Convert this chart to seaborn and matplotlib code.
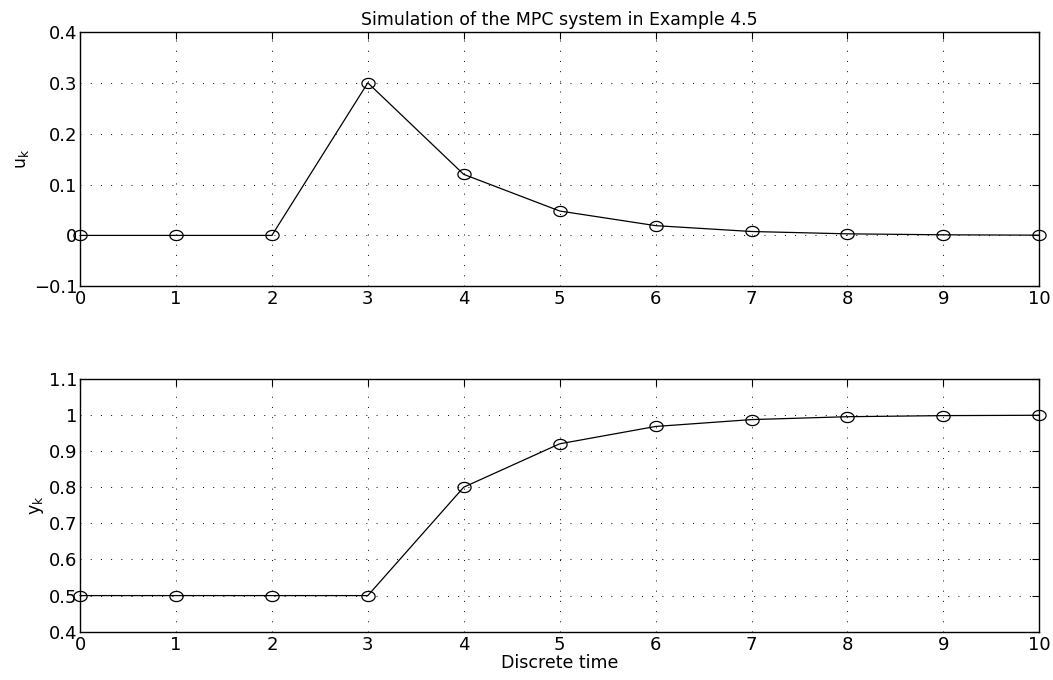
"""
MPC 시뮬레이션 (Example 4.5) — 입력 u_k, 출력 y_k
"""
import matplotlib
matplotlib.use("Agg")
import numpy as np
import pandas as pd
import matplotlib.pyplot as plt
from matplotlib.path import Path
import seaborn as sns

K = [0, 1, 2, 3, 4, 5, 6, 7, 8, 9, 10]
U = [0, 0, 0, 0.3, 0.12, 0.048, 0.0192, 0.0077, 0.0031, 0.0012, 0.0005]
Y = [0.5, 0.5, 0.5, 0.5, 0.8, 0.92, 0.968, 0.987, 0.995, 0.998, 0.999]

U_TICKS = [-0.1, 0, 0.1, 0.2, 0.3, 0.4]
U_LABELS = ["\u22120.1", "0", "0.1", "0.2", "0.3", "0.4"]
Y_TICKS = [0.4, 0.5, 0.6, 0.7, 0.8, 0.9, 1.0, 1.1]
Y_LABELS = ["0.4", "0.5", "0.6", "0.7", "0.8", "0.9", "1", "1.1"]

sns.set_style("white")
plt.rcParams["font.family"] = ["DejaVu Sans"]
plt.rcParams["mathtext.fontset"] = "dejavusans"
plt.rcParams["text.color"] = "black"
plt.rcParams["axes.labelcolor"] = "black"
plt.rcParams["xtick.color"] = "black"
plt.rcParams["ytick.color"] = "black"

df = pd.DataFrame({"k": K, "u": U, "y": Y})

# 원본 그림이 가로로 늘어나 있어서 원 마커도 가로 타원으로
t = np.linspace(0, 2 * np.pi, 60)
ELLIPSE = Path(np.column_stack([np.cos(t), 0.77 * np.sin(t)]), closed=True)

fig = plt.figure(figsize=(10.53, 6.8), dpi=100)
ax1 = fig.add_axes([0.076, 0.579, 0.911, 0.374])
ax2 = fig.add_axes([0.076, 0.071, 0.911, 0.372])


def style(ax, col, ticks, labels, lim, ylabel):
    sns.lineplot(data=df, x="k", y=col, ax=ax, color="black", linewidth=0.9,
                 marker=ELLIPSE, markersize=9.5, markerfacecolor="none",
                 markeredgecolor="black", markeredgewidth=0.9, clip_on=False)
    ax.set_xlim(0, 10)
    ax.set_ylim(*lim)
    ax.set_xticks(K)
    ax.set_yticks(ticks)
    ax.set_yticklabels(labels)
    ax.grid(True, linestyle=(0, (1, 9.5)), color="black", linewidth=0.7)
    ax.tick_params(direction="in", top=True, right=True, length=5,
                   labelsize=13, color="black", labelcolor="black")
    ax.tick_params(axis="x", pad=3)
    ax.tick_params(axis="y", pad=2)
    for s in ax.spines.values():
        s.set_color("black")
        s.set_linewidth(1.0)
    ax.set_ylabel(ylabel, fontsize=12.5, labelpad=2, color="black")
    ax.set_xlabel("")


style(ax1, "u", U_TICKS, U_LABELS, (-0.1, 0.4), r"$\mathregular{u_k}$")
style(ax2, "y", Y_TICKS, Y_LABELS, (0.4, 1.1), r"$\mathregular{y_k}$")
ax1.set_title("Simulation of the MPC system in Example 4.5", fontsize=12.5,
              pad=5, color="black")
ax2.set_xlabel("Discrete time", fontsize=12.5, labelpad=0, color="black")

fig.savefig("out.png", dpi=100)
